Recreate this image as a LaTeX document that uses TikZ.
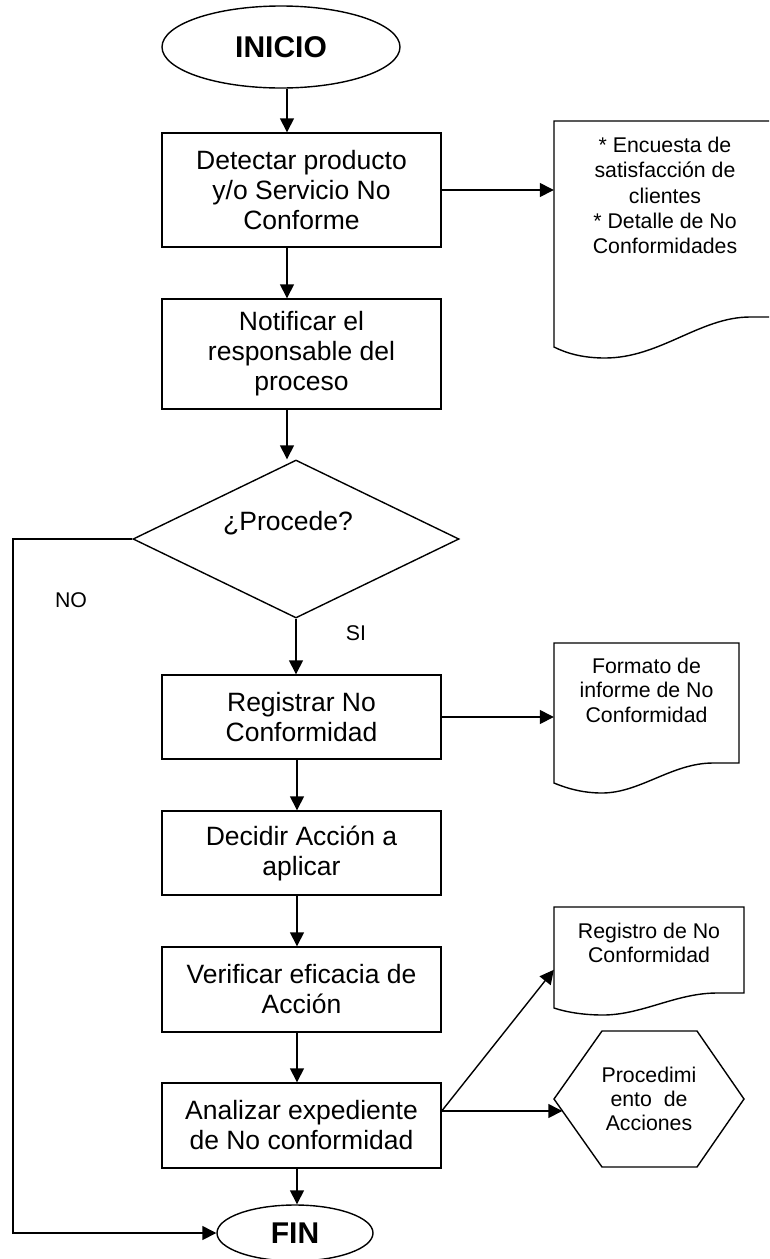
\documentclass[tikz,border=0pt]{standalone}
\usepackage{fontspec}
\setmainfont{Liberation Sans}
\usetikzlibrary{arrows.meta,shapes.geometric,calc}
\tikzset{
  ln/.style={line width=1.4pt},
  arr/.style={ln,-{Triangle[length=14pt,width=14pt]}},
  procbox/.style={draw,ln,rectangle,minimum width=279pt,inner sep=2pt,align=center,font=\fontsize{26.5}{30}\selectfont},
  term/.style={draw,ln,ellipse,inner sep=0pt,font=\fontsize{30}{34}\selectfont\bfseries},
  small/.style={inner sep=0pt,align=center,font=\fontsize{21.3}{24.3}\selectfont},
  ghost/.style={draw=none,rectangle,inner sep=0pt},
}
\begin{document}
\begin{tikzpicture}[x=1pt,y=-1pt]
\useasboundingbox (0,0) rectangle (769,1259);
\clip (0,0) rectangle (769,1259);
\fill[white] (0,0) rectangle (769,1259);

% column coordinates
\coordinate (colA) at (287,0);
\coordinate (colB) at (297,0);

% terminals
\node[term,minimum width=238pt,minimum height=82pt] (inicio) at (281,47) {INICIO};
\node[term,minimum width=156pt,minimum height=56pt] (fin) at (295,1233) {FIN};

% process boxes
\node[procbox,minimum height=114pt] (b1) at (301.5,190) {Detectar producto\\y/o Servicio No\\Conforme};
\node[procbox,minimum height=110pt] (b2) at (301.5,354) {Notificar el\\responsable del\\proceso};
\node[procbox,minimum height=84pt] (b3) at (301.5,717) {Registrar No\\Conformidad};
\node[procbox,minimum height=84pt] (b4) at (301.5,853) {Decidir Acción a\\aplicar};
\node[procbox,minimum height=85pt] (b5) at (301.5,989.5) {Verificar eficacia de\\Acción};
\node[procbox,minimum height=85pt] (b6) at (301.5,1125.5) {Analizar expediente\\de No conformidad};

% decision
\node[draw,ln,diamond,inner sep=0pt,minimum width=326pt,minimum height=158pt] (d) at (296,539) {};
\node[inner sep=0pt,anchor=base,font=\fontsize{26.5}{30}\selectfont] (dq) at (288,530) {¿Procede?};

% documents (outline areas)
\node[ghost,minimum width=222pt,minimum height=226pt] (doc1) at (665,234) {};
\node[ghost,minimum width=185pt,minimum height=140pt] (doc2) at (646.5,713) {};
\node[ghost,minimum width=190pt,minimum height=101pt] (doc3) at (649,957.5) {};

\draw[ln] (554,121) -- (776,121) -- (776,317) -- (750,317)
  .. controls (700,317) and (660,358) .. (605,358)
  .. controls (582,358) and (566,353) .. (554,347) -- cycle;
\draw[ln] (554,643) -- (739,643) -- (739,763) -- (713,763)
  .. controls (672,763) and (640,793) .. (602,793)
  .. controls (582,793) and (566,788) .. (554,783) -- cycle;
\draw[ln] (554,907) -- (744,907) -- (744,993) -- (717,993)
  .. controls (676,993) and (642,1015) .. (603,1015)
  .. controls (583,1015) and (566,1012) .. (554,1008) -- cycle;

\node[small,anchor=north,font=\fontsize{21.3}{25.3}\selectfont] (doc1t) at ($(doc1.north)+(0,16)$) {* Encuesta de\\satisfacción de\\clientes\\* Detalle de No\\Conformidades};
\node[small,anchor=north] (doc2t) at ($(doc2.north)+(0,15)$) {Formato de\\informe de No\\Conformidad};
\node[small,anchor=north] (doc3t) at ($(doc3.north)+(0,16)$) {Registro de No\\Conformidad};

% hexagon
\node[ghost,small,minimum width=190pt,minimum height=136pt] (hex) at (649,1099) {Procedimi\\ento\ \ de\\Acciones};
\draw[ln] (554,1099) -- (602,1031) -- (697,1031) -- (744,1099) -- (697,1167) -- (602,1167) -- cycle;

% labels
\node[small] (lno) at (71,600) {NO};
\node[small] (lsi) at (356,633) {SI};

% connectors
\draw[arr] (inicio.south -| colA) -- (b1.north -| colA);
\draw[arr] (b1.south -| colA) -- (b2.north -| colA);
\draw[arr] (b2.south -| colA) -- (d.north -| colA);
\draw[arr] (d.south) -- (b3.north -| d.south);
\draw[arr] (b3.south -| colB) -- (b4.north -| colB);
\draw[arr] (b4.south -| colB) -- (b5.north -| colB);
\draw[arr] (b5.south -| colB) -- (b6.north -| colB);
\draw[arr] (b6.south -| colB) -- (fin.north -| colB);

\draw[arr] (b1.east) -- (b1.east -| doc1.west);
\draw[arr] (b3.east) -- (b3.east -| doc2.west);

\coordinate (b6out) at ($(b6.east)+(0,-14.5)$);
\coordinate (doc3in) at ($(doc3.north west)+(0,63)$);
\coordinate (hexin) at ($(hex.west)+(8.5,12)$);
\draw[arr] (b6out) -- (doc3in);
\draw[arr] (b6out) -- (hexin);

\coordinate (nocorner) at (13,539);
\draw[arr] (d.west) -- (nocorner) |- (fin.west);
\end{tikzpicture}
\end{document}
